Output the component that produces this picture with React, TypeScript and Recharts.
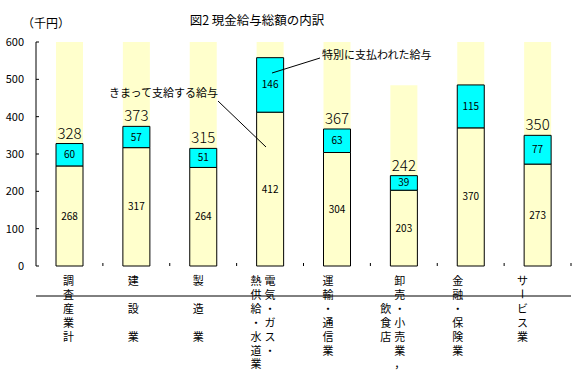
import { BarChart, Bar, XAxis, YAxis, LabelList } from "recharts"

const categories = [
  "調査産業計",
  "建設業",
  "製造業",
  "電気・ガス・熱供給・水道業",
  "運輸・通信業",
  "卸売・小売業，飲食店",
  "金融・保険業",
  "サービス業",
]
// vertical tick text, one string per column (right column first)
const tickColumns = [
  ["調査産業計"],
  ["建　設　業"],
  ["製　造　業"],
  ["電気・ガス・", "熱供給・水道業"],
  ["運輸・通信業"],
  ["卸売・小売業，", "　　飲食店"],
  ["金融・保険業"],
  ["サービス業"],
]
const regularPay = [268, 317, 264, 412, 304, 203, 370, 273]
const specialPay = [60, 57, 51, 146, 63, 39, 115, 77]
const totals = [328, 373, 315, null, 367, 242, null, 350]
const backdrop = [600, 600, 600, 600, 600, 484, 600, 600]
const yTicks = [0, 100, 200, 300, 400, 500, 600]

const W = 579
const H = 379
const M = { top: 42, right: 8, bottom: 8, left: 0 }
const Y_W = 36
const X_H = 105
const AXIS_Y = H - M.bottom - X_H
const BAND = (W - M.left - M.right - Y_W) / categories.length
const FONT = "'Noto Sans CJK JP', 'Noto Sans', sans-serif"
const YELLOW = "#FFFFCC"
const CYAN = "#00FFFF"

const data = categories.map((name, i) => ({
  name,
  regular: regularPay[i],
  special: specialPay[i],
  total: totals[i],
  bg: backdrop[i],
}))

function CategoryTick(props: any) {
  const { x, index } = props
  const y = AXIS_Y
  const cols = tickColumns[index] || []
  const base = x - 1 - 2 * index + (cols.length - 1) * 7
  return (
    <g>
      <line x1={x + BAND / 2} x2={x + BAND / 2} y1={y} y2={y - 3} stroke="#000" />
      {cols.map((col, c) =>
        Array.from(col).map((ch, r) => {
          const cx = base - c * 14
          const cy = y + 14 + r * 13.9
          return (
            <text
              key={`${c}-${r}`}
              x={cx}
              y={cy}
              textAnchor="middle"
              dominantBaseline="central"
              fontSize={11}
              fontFamily={FONT}
              fill="#000"
              transform={ch === "ー" ? `rotate(90 ${cx} ${cy})` : undefined}
            >
              {ch}
            </text>
          )
        })
      )}
    </g>
  )
}

export default function App() {
  return (
    <div style={{ position: "relative", width: W, height: H, fontFamily: FONT }}>
      <style>{`body{margin:0}`}</style>
      <BarChart width={W} height={H} data={data} margin={M}>
        <XAxis xAxisId="bg" dataKey="name" hide />
        <XAxis
          xAxisId="main"
          dataKey="name"
          height={X_H}
          interval={0}
          tickSize={0}
          tickMargin={0}
          tickLine={false}
          axisLine={{ stroke: "#000" }}
          tick={<CategoryTick />}
        />
        <YAxis
          width={Y_W}
          domain={[0, 600]}
          ticks={yTicks}
          interval={0}
          tickSize={-3}
          tickMargin={15}
          axisLine={{ stroke: "#000" }}
          tickLine={{ stroke: "#000" }}
          tick={{ fill: "#000", fontSize: 11, fontFamily: FONT }}
        />
        <Bar xAxisId="bg" dataKey="bg" fill={YELLOW} barSize={27} isAnimationActive={false} />
        <Bar
          xAxisId="main"
          dataKey="regular"
          stackId="pay"
          fill={YELLOW}
          stroke="#000"
          strokeWidth={1}
          barSize={27}
          isAnimationActive={false}
        >
          <LabelList dataKey="regular" position="center" fill="#000" fontSize={10} fontFamily={FONT} />
        </Bar>
        <Bar
          xAxisId="main"
          dataKey="special"
          stackId="pay"
          fill={CYAN}
          stroke="#000"
          strokeWidth={1}
          barSize={27}
          isAnimationActive={false}
        >
          <LabelList dataKey="special" position="center" fill="#000" fontSize={10} fontFamily={FONT} />
          <LabelList
            dataKey="total"
            position="top"
            offset={5}
            fill="#000"
            fontSize={15}
            fontWeight={300}
            fontFamily={FONT}
          />
        </Bar>
      </BarChart>
      <svg
        width={W}
        height={H}
        style={{ position: "absolute", left: 0, top: 0, pointerEvents: "none" }}
        fontFamily={FONT}
      >
        <text x={257} y={19} textAnchor="middle" dominantBaseline="central" fontSize={12.5}>
          図2 現金給与総額の内訳
        </text>
        <text x={22} y={22} dominantBaseline="central" fontSize={12}>
          （千円）
        </text>
        <text x={109} y={92} dominantBaseline="central" fontSize={11}>
          きまって支給する給与
        </text>
        <line x1={218} y1={101} x2={266} y2={147} stroke="#000" />
        <text x={322} y={54} dominantBaseline="central" fontSize={11}>
          特別に支払われた給与
        </text>
        <line x1={272} y1={73} x2={320} y2={58} stroke="#000" />
      </svg>
    </div>
  )
}
